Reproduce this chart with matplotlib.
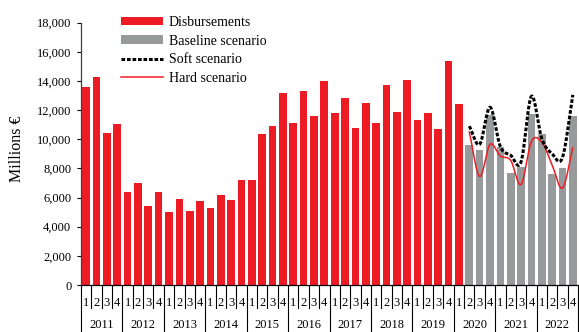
import numpy as np
import matplotlib
matplotlib.use("Agg")
import matplotlib.pyplot as plt
from matplotlib.transforms import blended_transform_factory
from matplotlib.patches import Patch
from matplotlib.lines import Line2D

# ---- data -------------------------------------------------------------
years = ["2011", "2012", "2013", "2014", "2015", "2016",
         "2017", "2018", "2019", "2020", "2021", "2022"]
quarters = ["1", "2", "3", "4"]

# quarterly disbursements, 2011Q1 - 2020Q1 (millions EUR)
disbursements = [13600, 14300, 10450, 11050,
                 6350, 7000, 5400, 6350,
                 5000, 5900, 5050, 5750,
                 5300, 6200, 5800, 7200,
                 7200, 10350, 10900, 13200,
                 11100, 13300, 11600, 14000,
                 11800, 12850, 10800, 12500,
                 11100, 13750, 11900, 14100,
                 11300, 11800, 10700, 15400,
                 12400]

# projections, 2020Q2 - 2022Q4
baseline = [9600, 9250, 11650, 9450, 7700, 8100, 11750, 10350, 7600, 8050, 11600]
soft = [10900, 9650, 12200, 9500, 8900, 8450, 12950, 10050, 9000, 8750, 13050]
hard = [10500, 7450, 9650, 8850, 8550, 6900, 9850, 9800, 8250, 6650, 9400]

RED = "#ED1C24"
GREY = "#979A9A"

plt.rcParams["font.family"] = ["Liberation Serif", "DejaVu Serif"]


def smooth(xs, ys, n=20):
    """Catmull-Rom style smoothed path through the points."""
    xs = np.asarray(xs, float)
    ys = np.asarray(ys, float)
    m = np.empty_like(ys)
    m[1:-1] = (ys[2:] - ys[:-2]) / 2.0
    m[0] = ys[1] - ys[0]
    m[-1] = ys[-1] - ys[-2]
    px, py = [], []
    for i in range(len(xs) - 1):
        t = np.linspace(0, 1, n, endpoint=(i == len(xs) - 2))
        h00 = 2 * t**3 - 3 * t**2 + 1
        h10 = t**3 - 2 * t**2 + t
        h01 = -2 * t**3 + 3 * t**2
        h11 = t**3 - t**2
        px.append(xs[i] + t * (xs[i + 1] - xs[i]))
        py.append(h00 * ys[i] + h10 * m[i] + h01 * ys[i + 1] + h11 * m[i + 1])
    return np.concatenate(px), np.concatenate(py)


W, H = 579, 332
fig = plt.figure(figsize=(W / 100, H / 100), dpi=100)
ax = fig.add_axes([81 / W, (H - 285) / H, 497 / W, (285 - 22.7) / H])

n_hist = len(disbursements)
x_hist = np.arange(n_hist)
x_proj = np.arange(n_hist, n_hist + len(baseline))

ax.bar(x_hist, disbursements, width=0.74, color=RED, linewidth=0, zorder=2)
ax.bar(x_proj, baseline, width=0.74, color=GREY, linewidth=0, zorder=2)

sx, sy = smooth(x_proj, soft)
ax.plot(sx, sy, color="black", lw=2.2, dashes=(1.2, 0.6), zorder=4)
hx, hy = smooth(x_proj, hard)
ax.plot(hx, hy, color=RED, lw=1.1, zorder=3)

n_all = len(years) * len(quarters)
ax.set_xlim(-0.5, n_all - 0.5)
ax.set_ylim(0, 18000)
ax.set_yticks(np.arange(0, 18001, 2000))
ax.set_yticklabels([f"{v:,}" for v in range(0, 18001, 2000)], fontsize=9)
ax.tick_params(axis="y", direction="out", length=3, width=0.8, pad=4)
ax.set_xticks([])

for s in ("top", "right"):
    ax.spines[s].set_visible(False)
ax.spines["left"].set_color("#404040")
ax.spines["bottom"].set_color("black")
ax.spines["left"].set_linewidth(0.9)
ax.spines["bottom"].set_linewidth(0.9)

ax.set_ylabel("Millions €", fontsize=11.5)
ax.yaxis.set_label_coords(-0.113, 0.52)

# two-level category axis: quarter numbers over years
tr = blended_transform_factory(ax.transData, ax.transAxes)
q_y, yr_y = -0.0675, -0.1525
q_sep, yr_sep = -0.088, -0.185
for i in range(n_all):
    ax.text(i, q_y, quarters[i % 4], transform=tr, ha="center", va="center",
            fontsize=9)
for k, yr in enumerate(years):
    ax.text(4 * k + 1.5, yr_y, yr, transform=tr, ha="center", va="center",
            fontsize=9)
for b in range(n_all + 1):
    bottom = yr_sep if b % 4 == 0 else q_sep
    ax.plot([b - 0.5, b - 0.5], [0, bottom], transform=tr, color="black",
            lw=0.8, clip_on=False)

handles = [Patch(facecolor=RED, edgecolor="none"),
           Patch(facecolor=GREY, edgecolor="none"),
           Line2D([], [], color="black", lw=2.2, dashes=(1.2, 0.6)),
           Line2D([], [], color=RED, lw=1.1)]
labels = ["Disbursements", "Baseline scenario", "Soft scenario", "Hard scenario"]
fig.legend(handles, labels, loc="upper left",
           bbox_to_anchor=(121 / W, 1 - 16 / H), frameon=False, fontsize=10,
           handlelength=3.0, handleheight=0.55, handletextpad=0.45,
           labelspacing=0.4, borderpad=0, borderaxespad=0)

fig.savefig("out.png", dpi=100)
